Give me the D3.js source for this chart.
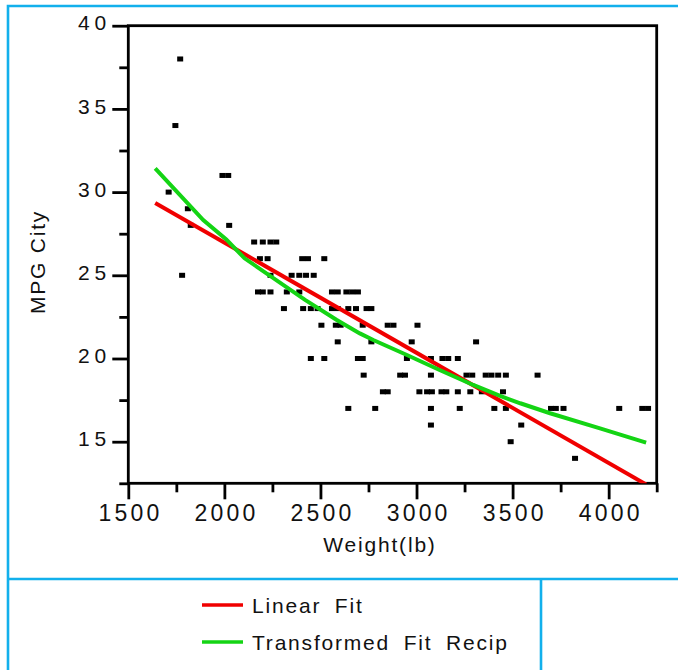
<!DOCTYPE html>
<meta charset="utf-8">
<script src="https://d3js.org/d3.v7.min.js"></script>
<style>
  body { margin: 0; background: #fff; }
  text { font-family: "Liberation Sans", Arial, sans-serif; fill: #111; }
</style>
<div id="chart"></div>
<script>

// Scatter data: weight (lb) and MPG City, one list per row of MPG
var mpgRows = [38, 34, 31, 30, 29, 28, 27, 26, 25, 24, 23, 22, 21, 20, 19, 18, 17, 16, 15, 14];
var weightsByRow = [
  [1770],
  [1745],
  [1990, 2020],
  [1710],
  [1810],
  [1825, 2025],
  [2155, 2200, 2240, 2270],
  [2185, 2225, 2405, 2435, 2520],
  [1780, 2240, 2350, 2390, 2425, 2465],
  [2175, 2200, 2240, 2325, 2390, 2560, 2590, 2635, 2665, 2695],
  [2310, 2410, 2450, 2485, 2560, 2590, 2645, 2685, 2740, 2765],
  [2505, 2580, 2605, 2720, 2850, 2880, 3005],
  [2590, 2765, 2975, 3310],
  [2450, 2520, 2695, 2720, 2950, 3075, 3135, 3165, 3215],
  [2725, 2915, 2940, 3075, 3260, 3290, 3360, 3390, 3425, 3465, 3630],
  [2825, 2850, 3015, 3055, 3080, 3130, 3155, 3215, 3280, 3340, 3450],
  [2645, 2785, 3075, 3225, 3405, 3465, 3700, 3725, 3765, 4055, 4175, 4205],
  [3075, 3545],
  [3490],
  [3825]
];

// Fitted curves
var linearFitWeight = [1640, 4195];
var linearFitMpg    = [29.35, 12.43];
var recipFitWeight = [1640, 1890, 2010, 2105, 2420, 2585, 2705, 2775, 2950, 3120, 3295, 3435, 3540, 3695, 3955, 4195];
var recipFitMpg    = [31.43, 28.32, 27.16, 26.02, 23.52, 22.31, 21.51, 21.11, 20.21, 19.31, 18.41, 17.75, 17.31, 16.71, 15.8, 14.94];

// Axis ticks
var xMajorTicks = [1500, 2000, 2500, 3000, 3500, 4000];
var xMinorTicks = [1750, 2250, 2750, 3250, 3750, 4250];
var yMajorTicks = [15, 20, 25, 30, 35, 40];
var yMinorTicks = [12.5, 17.5, 22.5, 27.5, 32.5, 37.5];

var legendLabels = ["Linear Fit", "Transformed Fit Recip"];
var legendColors = ["#f00000", "#14d414"];

var W = 678, H = 670;
var plot = {left: 128.3, right: 656.7, top: 25.7, bottom: 483.3};
var blue = "#12b0ec";

var svg = d3.select("#chart").append("svg")
    .attr("width", W)
    .attr("height", H);

var x = d3.scaleLinear().domain([1500, 4250]).range([plot.left, plot.right]);
var y = d3.scaleLinear().domain([12.5, 40]).range([plot.bottom, plot.top]);

// Blue panel borders
var panel = svg.append("g")
    .attr("stroke", blue)
    .attr("stroke-width", 2.6)
    .attr("fill", "none");
panel.append("path").attr("d", "M8,670 V6 H678");
panel.append("line").attr("x1", 8).attr("x2", 678).attr("y1", 579).attr("y2", 579);
panel.append("line").attr("x1", 541).attr("x2", 541).attr("y1", 579).attr("y2", 670);

// Axes
function styleAxis(g) {
  g.select(".domain").remove();
  g.selectAll(".tick line").attr("stroke", "#000").attr("stroke-width", 2.8);
}

svg.append("g")
    .attr("transform", "translate(0," + plot.bottom + ")")
    .call(d3.axisBottom(x).tickValues(xMinorTicks).tickSize(9).tickFormat(""))
    .call(styleAxis);
var xAxis = svg.append("g")
    .attr("transform", "translate(0," + plot.bottom + ")")
    .call(d3.axisBottom(x).tickValues(xMajorTicks).tickSize(16).tickPadding(5).tickFormat(d3.format("d")))
    .call(styleAxis);
xAxis.selectAll(".tick text")
    .attr("font-size", 23)
    .attr("letter-spacing", 3.2)
    .attr("dx", 1.6)
    .attr("fill", "#111");

svg.append("g")
    .attr("transform", "translate(" + plot.left + ",0)")
    .call(d3.axisLeft(y).tickValues(yMinorTicks).tickSize(9).tickFormat(""))
    .call(styleAxis);
var yAxis = svg.append("g")
    .attr("transform", "translate(" + plot.left + ",0)")
    .call(d3.axisLeft(y).tickValues(yMajorTicks).tickSize(16).tickPadding(1).tickFormat(d3.format("d")))
    .call(styleAxis);
yAxis.selectAll(".tick text")
    .attr("font-size", 21)
    .attr("letter-spacing", 5)
    .attr("dy", "0.2em")
    .attr("fill", "#111");

// Frame
svg.append("rect")
    .attr("x", plot.left).attr("y", plot.top)
    .attr("width", plot.right - plot.left)
    .attr("height", plot.bottom - plot.top)
    .attr("fill", "none")
    .attr("stroke", "#000")
    .attr("stroke-width", 2.8);

// Axis titles
svg.append("text")
    .attr("x", 380).attr("y", 552)
    .attr("text-anchor", "middle")
    .attr("font-size", 21)
    .attr("letter-spacing", 1.8)
    .text("Weight(lb)");
svg.append("text")
    .attr("transform", "translate(45,262) rotate(-90)")
    .attr("text-anchor", "middle")
    .attr("font-size", 21)
    .attr("letter-spacing", 1.8)
    .text("MPG City");

// Points
var points = [];
mpgRows.forEach(function(m, i) {
  weightsByRow[i].forEach(function(w) { points.push({w: w, mpg: m}); });
});

svg.append("clipPath").attr("id", "plotClip")
  .append("rect")
    .attr("x", plot.left).attr("y", plot.top)
    .attr("width", plot.right - plot.left)
    .attr("height", plot.bottom - plot.top);

var area = svg.append("g").attr("clip-path", "url(#plotClip)");

area.selectAll("rect.pt")
  .data(points)
  .enter()
  .append("rect")
    .attr("class", "pt")
    .attr("x", function(d) { return x(d.w) - 3; })
    .attr("y", function(d) { return y(d.mpg) - 2.5; })
    .attr("width", 6)
    .attr("height", 5)
    .attr("fill", "#000");

// Fit lines
var line = d3.line()
    .x(function(d) { return x(d[0]); })
    .y(function(d) { return y(d[1]); });

area.append("path")
    .datum(d3.zip(linearFitWeight, linearFitMpg))
    .attr("d", line)
    .attr("fill", "none")
    .attr("stroke", legendColors[0])
    .attr("stroke-width", 4);

area.append("path")
    .datum(d3.zip(recipFitWeight, recipFitMpg))
    .attr("d", line)
    .attr("fill", "none")
    .attr("stroke", legendColors[1])
    .attr("stroke-width", 4);

// Legend
var legend = svg.append("g");
legendLabels.forEach(function(label, i) {
  var ly = 605 + i * 37;
  legend.append("line")
      .attr("x1", 202).attr("x2", 243)
      .attr("y1", ly).attr("y2", ly)
      .attr("stroke", legendColors[i])
      .attr("stroke-width", 3.5);
  legend.append("text")
      .attr("x", 252).attr("y", ly + 7.5)
      .attr("font-size", 21)
      .attr("letter-spacing", 1.8)
      .attr("word-spacing", 6)
      .text(label);
});

</script>
